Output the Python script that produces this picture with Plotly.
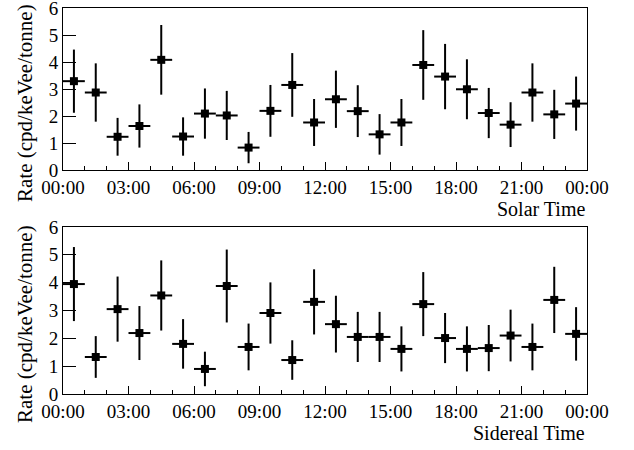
import plotly.graph_objects as go

hours = [h + 0.5 for h in range(24)]
half_bin = [0.5] * 24

solar_rate = [3.29, 2.87, 1.23, 1.63, 4.08, 1.24, 2.09, 2.02, 0.83, 2.19, 3.15, 1.76,
              2.62, 2.18, 1.32, 1.76, 3.89, 3.46, 2.99, 2.11, 1.68, 2.87, 2.06, 2.46]
solar_err = [1.17, 1.08, 0.70, 0.80, 1.29, 0.71, 0.93, 0.91, 0.58, 0.96, 1.18, 0.87,
             1.06, 0.96, 0.75, 0.87, 1.29, 1.21, 1.11, 0.93, 0.83, 1.08, 0.91, 1.00]

sidereal_rate = [3.95, 1.33, 3.05, 2.19, 3.54, 1.80, 0.90, 3.88, 1.69, 2.91, 1.22, 3.31,
                 2.51, 2.05, 2.05, 1.62, 3.23, 2.01, 1.62, 1.65, 2.10, 1.69, 3.38, 2.16]
sidereal_err = [1.33, 0.75, 1.17, 0.97, 1.26, 0.89, 0.62, 1.31, 0.84, 1.10, 0.71, 1.17,
                1.02, 0.90, 0.90, 0.81, 1.15, 0.90, 0.81, 0.83, 0.93, 0.84, 1.19, 0.96]

tick_vals = [0, 3, 6, 9, 12, 15, 18, 21, 24]
tick_text = ["00:00", "03:00", "06:00", "09:00", "12:00", "15:00", "18:00", "21:00", "00:00"]

FONT = "Liberation Serif"
W, H = 634, 450


def ytop(px):
    return 1 - px / H


fig = go.Figure()

for rate, err, xa, ya in [(solar_rate, solar_err, "x", "y"),
                          (sidereal_rate, sidereal_err, "x2", "y2")]:
    fig.add_trace(go.Scatter(
        x=hours, y=rate, mode="markers", xaxis=xa, yaxis=ya,
        marker=dict(symbol="square", size=8, color="black"),
        error_x=dict(type="data", array=half_bin, width=0, thickness=2, color="black"),
        error_y=dict(type="data", array=err, width=0, thickness=2, color="black"),
        showlegend=False, cliponaxis=False,
    ))

x_dom = [63 / W, 587 / W]
xaxis_common = dict(
    range=[0, 24], tickmode="array", tickvals=tick_vals, ticktext=tick_text,
    ticks="inside", ticklen=8, tickwidth=1, tickcolor="black",
    minor=dict(tickmode="linear", tick0=0, dtick=1, ticks="inside", ticklen=4,
               tickwidth=1, tickcolor="black", showgrid=False),
    showline=True, linecolor="black", linewidth=1, mirror=True,
    showgrid=False, zeroline=False, automargin=False, ticklabeloverflow="allow",
    tickfont=dict(family=FONT, size=19, color="black"),
    fixedrange=True,
)
yaxis_common = dict(
    range=[0, 6], tickmode="linear", tick0=0, dtick=1,
    ticks="inside", ticklen=13, tickwidth=1, tickcolor="black",
    showline=True, linecolor="black", linewidth=1, mirror=True,
    showgrid=False, zeroline=False, automargin=False, ticklabeloverflow="allow",
    tickfont=dict(family=FONT, size=19, color="black"),
    fixedrange=True,
)

fig.update_layout(
    width=W, height=H,
    margin=dict(l=0, r=0, t=0, b=0),
    paper_bgcolor="white", plot_bgcolor="white",
    xaxis=dict(domain=x_dom, anchor="y", **xaxis_common),
    yaxis=dict(domain=[ytop(170), ytop(8)], anchor="x", **yaxis_common),
    xaxis2=dict(domain=x_dom, anchor="y2", **xaxis_common),
    yaxis2=dict(domain=[ytop(394), ytop(227)], anchor="x2", **yaxis_common),
    font=dict(family=FONT, size=18, color="black"),
    hovermode=False,
)

annots = [
    dict(text="Rate (cpd/keVee/tonne)", x=25 / W, y=ytop(103), textangle=-90, size=21),
    dict(text="Rate (cpd/keVee/tonne)", x=25 / W, y=ytop(324), textangle=-90, size=21),
    dict(text="Solar Time", x=587 / W, y=ytop(209), xanchor="right", size=20),
    dict(text="Sidereal Time", x=587 / W, y=ytop(433), xanchor="right", size=20),
]
for a in annots:
    a.setdefault("xanchor", "center")
    size = a.pop("size")
    fig.add_annotation(xref="paper", yref="paper", showarrow=False, yanchor="middle",
                       font=dict(family=FONT, size=size, color="black"), **a)

fig.write_html("out.html", config={"displayModeBar": False},
               post_script="document.body.style.margin='0';document.body.style.overflow='hidden';")
